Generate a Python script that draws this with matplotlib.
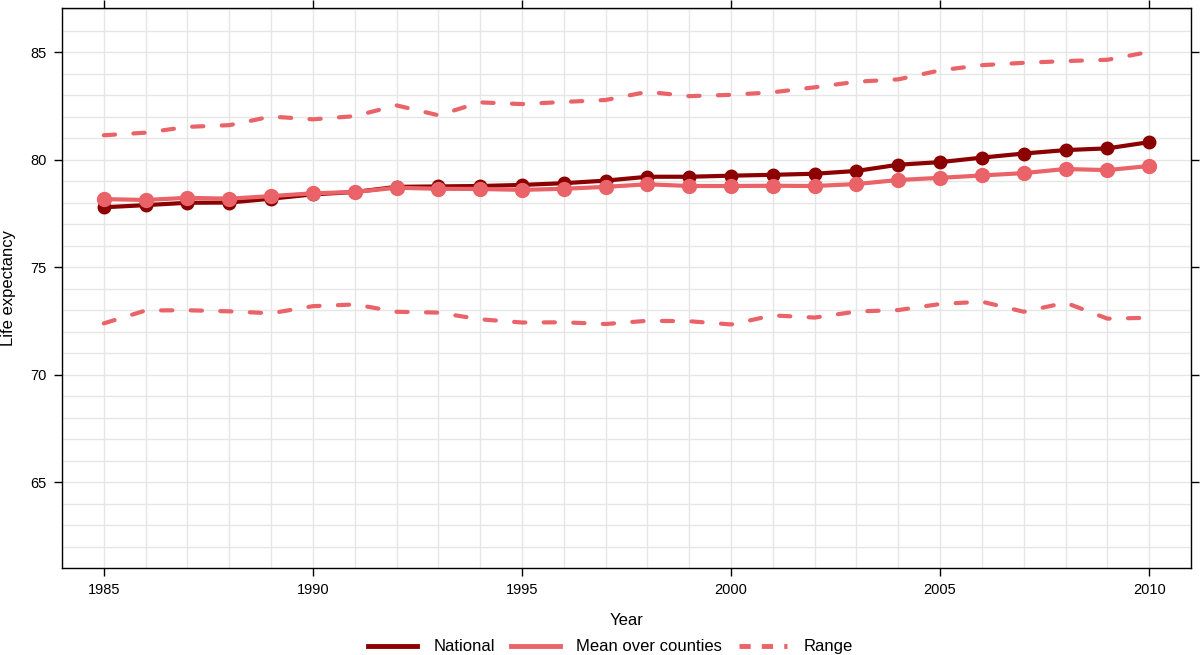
import matplotlib.pyplot as plt
from matplotlib.lines import Line2D
from matplotlib.ticker import MultipleLocator
import numpy as np

plt.rcParams['font.family'] = ['Liberation Sans', 'DejaVu Sans']

years = np.arange(1985, 2011)
national = [77.78, 77.88, 77.99, 78.00, 78.18, 78.38, 78.49, 78.73, 78.75,
            78.77, 78.82, 78.90, 79.02, 79.20, 79.20, 79.25, 79.29, 79.34,
            79.47, 79.76, 79.88, 80.09, 80.28, 80.44, 80.52, 80.81]
mean_counties = [78.16, 78.12, 78.22, 78.18, 78.30, 78.43, 78.49, 78.69, 78.64,
                 78.63, 78.59, 78.64, 78.73, 78.85, 78.77, 78.77, 78.78, 78.77,
                 78.86, 79.05, 79.15, 79.26, 79.37, 79.56, 79.51, 79.70]
range_high = [81.13, 81.25, 81.52, 81.60, 82.00, 81.87, 82.02, 82.52, 82.06,
              82.66, 82.58, 82.68, 82.77, 83.15, 82.95, 83.01, 83.13, 83.36,
              83.62, 83.73, 84.15, 84.39, 84.50, 84.58, 84.64, 85.01]
range_low = [72.38, 72.98, 72.99, 72.94, 72.85, 73.18, 73.26, 72.92, 72.88,
             72.57, 72.42, 72.43, 72.35, 72.50, 72.48, 72.33, 72.75, 72.65,
             72.93, 73.00, 73.28, 73.39, 72.92, 73.34, 72.60, 72.64]

dark = '#8b0000'
light = '#ea6368'

fig = plt.figure(figsize=(12, 6.55), dpi=100)
ax = fig.add_axes([0.0517, 0.1328, 0.9408, 0.855])

for rng in (range_high, range_low):
    ax.plot(years, rng, color=light, lw=3, dashes=(2.7, 4.4),
            dash_capstyle='round', zorder=3)
ax.plot(years, national, color=dark, lw=3, marker='o', ms=9, zorder=4)
ax.plot(years, mean_counties, color=light, lw=3, marker='o', ms=10, zorder=5)

ax.set_xlim(1984, 2011)
ax.set_ylim(61, 87.05)
ax.set_xticks([1985, 1990, 1995, 2000, 2005, 2010])
ax.set_yticks([65, 70, 75, 80, 85])
ax.xaxis.set_minor_locator(MultipleLocator(1))
ax.yaxis.set_minor_locator(MultipleLocator(1))
ax.grid(True, which='both', color='#e6e6e6', lw=1, zorder=0)
ax.set_axisbelow(True)
ax.tick_params(which='major', direction='out', length=6, width=1,
               top=True, right=True, labelsize=10.5, pad=5)
ax.tick_params(which='minor', length=0)
for s in ax.spines.values():
    s.set_linewidth(1)

ax.set_xlabel('Year', fontsize=12, labelpad=11)
ax.set_ylabel('Life expectancy', fontsize=12, labelpad=10)

handles = [Line2D([], [], color=dark, lw=3.5),
           Line2D([], [], color=light, lw=3.5),
           Line2D([], [], color=light, lw=3.5, dashes=(2.3, 2.3))]
fig.legend(handles, ['National', 'Mean over counties', 'Range'],
           loc='lower center', ncol=3, frameon=False, fontsize=12,
           handlelength=2.9, handletextpad=1.0, columnspacing=1.0,
           bbox_to_anchor=(0.509, -0.022))

fig.savefig('out.png', dpi=100)
